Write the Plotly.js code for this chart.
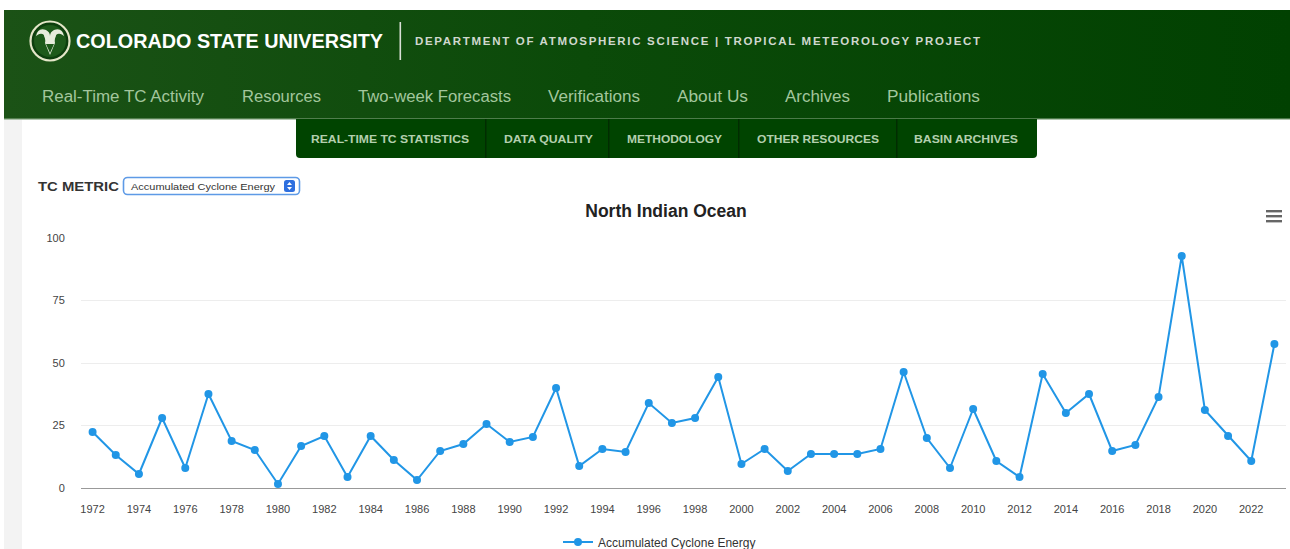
<!DOCTYPE html>
<html>
<head>
<meta charset="utf-8">
<script src="https://cdn.plot.ly/plotly-3.0.1.min.js"></script>
<style>
  html, body { margin: 0; padding: 0; background: #ffffff; width: 1290px; height: 549px; overflow: hidden; }
  #bg { position: absolute; left: 0; top: 0; }
  #chart { position: absolute; left: 0; top: 0; width: 1290px; height: 549px; }
  text { font-family: "Liberation Sans", Arial, Helvetica, sans-serif; }
</style>
</head>
<body>
<svg id="bg" width="1290" height="549" xmlns="http://www.w3.org/2000/svg">
  <defs>
    <linearGradient id="hdr" x1="0" y1="0" x2="1" y2="0">
      <stop offset="0" stop-color="#1b5216"/>
      <stop offset="0.45" stop-color="#0b4a09"/>
      <stop offset="1" stop-color="#014101"/>
    </linearGradient>
  </defs>
  <!-- left grey strip -->
  <rect x="4" y="119" width="18" height="430" fill="#f3f3f3"/>
  <!-- header band -->
  <rect x="4" y="10" width="1286" height="109" fill="url(#hdr)"/>
  <rect x="4" y="118.5" width="1286" height="1.2" fill="#8fae8c"/>
  <!-- logo -->
  <circle cx="50" cy="41" r="19.5" fill="#0d3f0d" stroke="#e4e6c8" stroke-width="2.2"/>
  <circle cx="50" cy="41" r="16" fill="#1e5a1a"/>
  <path d="M36 36 q2 -9 10 -6 q4 2 4 6 q0 -4 4 -6 q8 -3 10 6 q-3 -3 -7 -1 q-3 3 -2 8 l-5 12 l-5 -12 q1 -5 -2 -8 q-4 -2 -7 1z" fill="#e8ecdc"/>
  <circle cx="41" cy="37" r="3.2" fill="#1e5a1a"/>
  <circle cx="59" cy="37" r="3.2" fill="#1e5a1a"/>
  <path d="M46 44 l4 9 l4 -9 z" fill="#1e5a1a"/>
  <text x="76" y="48" font-size="20" font-weight="bold" fill="#ffffff" textLength="307" lengthAdjust="spacingAndGlyphs">COLORADO STATE UNIVERSITY</text>
  <rect x="399.5" y="22" width="1.6" height="38" fill="#d9dfd6"/>
  <text x="415" y="45" font-size="11.5" font-weight="bold" fill="#d0d8ce" textLength="565" lengthAdjust="spacing">DEPARTMENT OF ATMOSPHERIC SCIENCE | TROPICAL METEOROLOGY PROJECT</text>
  <!-- nav -->
  <g font-size="16" fill="#a3c69d">
    <text x="42" y="102" textLength="162" lengthAdjust="spacingAndGlyphs">Real-Time TC Activity</text>
    <text x="242" y="102" textLength="79" lengthAdjust="spacingAndGlyphs">Resources</text>
    <text x="358" y="102" textLength="153" lengthAdjust="spacingAndGlyphs">Two-week Forecasts</text>
    <text x="548" y="102" textLength="92" lengthAdjust="spacingAndGlyphs">Verifications</text>
    <text x="677" y="102" textLength="71" lengthAdjust="spacingAndGlyphs">About Us</text>
    <text x="785" y="102" textLength="65" lengthAdjust="spacingAndGlyphs">Archives</text>
    <text x="887" y="102" textLength="93" lengthAdjust="spacingAndGlyphs">Publications</text>
  </g>
  <!-- sub tabs -->
  <path d="M296 119 H1037 V154 q0 4 -4 4 H300 q-4 0 -4 -4 Z" fill="#004400"/>
  <g fill="#012c01">
    <rect x="485" y="119" width="1.5" height="39"/>
    <rect x="608" y="119" width="1.5" height="39"/>
    <rect x="738" y="119" width="1.5" height="39"/>
    <rect x="896" y="119" width="1.5" height="39"/>
  </g>
  <g font-size="10.5" font-weight="bold" fill="#b3cfae">
    <text x="311" y="143" textLength="158" lengthAdjust="spacingAndGlyphs">REAL-TIME TC STATISTICS</text>
    <text x="504" y="143" textLength="89" lengthAdjust="spacingAndGlyphs">DATA QUALITY</text>
    <text x="627" y="143" textLength="95" lengthAdjust="spacingAndGlyphs">METHODOLOGY</text>
    <text x="757" y="143" textLength="122" lengthAdjust="spacingAndGlyphs">OTHER RESOURCES</text>
    <text x="914" y="143" textLength="104" lengthAdjust="spacingAndGlyphs">BASIN ARCHIVES</text>
  </g>
  <!-- TC metric selector -->
  <text x="38" y="191" font-size="13.5" font-weight="bold" fill="#333333" textLength="81" lengthAdjust="spacingAndGlyphs">TC METRIC</text>
  <rect x="123.5" y="177.5" width="176" height="17" rx="4" ry="4" fill="#ffffff" stroke="#5e9ae6" stroke-width="1.6"/>
  <text x="131" y="189.5" font-size="9" fill="#333333" textLength="144" lengthAdjust="spacingAndGlyphs">Accumulated Cyclone Energy</text>
  <rect x="284" y="180" width="11" height="12" rx="2.5" ry="2.5" fill="#2e6fdf"/>
  <path d="M287 185 l2.5 -3 l2.5 3 z M287 187 l2.5 3 l2.5 -3 z" fill="#ffffff"/>
  <!-- hamburger -->
  <g fill="#666666">
    <rect x="1266" y="210" width="16" height="2.4"/>
    <rect x="1266" y="215" width="16" height="2.4"/>
    <rect x="1266" y="220" width="16" height="2.4"/>
  </g>
</svg>
<div id="chart"></div>
<script>
// North Indian Ocean - Accumulated Cyclone Energy by year
const years = [1972,1973,1974,1975,1976,1977,1978,1979,1980,1981,1982,1983,1984,1985,1986,1987,1988,1989,1990,1991,1992,1993,1994,1995,1996,1997,1998,1999,2000,2001,2002,2003,2004,2005,2006,2007,2008,2009,2010,2011,2012,2013,2014,2015,2016,2017,2018,2019,2020,2021,2022,2023];
const ace = [22.4,13.2,5.6,28,8,37.6,18.8,15.2,1.6,16.8,20.8,4.4,20.8,11.2,3.2,14.8,17.6,25.6,18.4,20.4,40,8.8,15.6,14.4,34,26,28,44.4,9.6,15.6,6.8,13.6,13.6,13.6,15.6,46.4,20,8,31.6,10.8,4.4,45.6,30,37.6,14.8,17.2,36.4,92.8,31.2,20.8,10.8,57.6];
const yTicks = [0,25,50,75,100];
const xTickYears = [1972,1974,1976,1978,1980,1982,1984,1986,1988,1990,1992,1994,1996,1998,2000,2002,2004,2006,2008,2010,2012,2014,2016,2018,2020,2022];
const seriesName = "Accumulated Cyclone Energy";
const chartTitle = "North Indian Ocean";

const FONT = '"Liberation Sans", Arial, Helvetica, sans-serif';
const BLUE = '#2196e6';

const trace = {
  x: years, y: ace, type: 'scatter', mode: 'lines+markers', name: seriesName,
  line: { color: BLUE, width: 2 },
  marker: { color: BLUE, size: 8 },
  cliponaxis: false,
  showlegend: true
};

const layout = {
  width: 1290, height: 549,
  margin: { l: 81, r: 4, t: 238, b: 61, pad: 0 },
  paper_bgcolor: 'rgba(0,0,0,0)',
  plot_bgcolor: 'rgba(0,0,0,0)',
  font: { family: FONT, color: '#444444', size: 11 },
  title: {
    text: '<b>' + chartTitle + '</b>',
    font: { family: FONT, size: 17.5, color: '#222222' },
    xref: 'container', yref: 'container',
    x: 666 / 1290, xanchor: 'center',
    y: (549 - 211) / 549, yanchor: 'middle'
  },
  xaxis: {
    range: [1971.5, 2023.5],
    tickmode: 'array', tickvals: xTickYears, ticktext: xTickYears.map(String),
    showgrid: false, zeroline: false,
    showline: true, linecolor: '#999999', linewidth: 1.3,
    ticks: 'outside', ticklen: 10, tickcolor: 'rgba(0,0,0,0)',
    tickfont: { family: FONT, size: 11, color: '#444444' },
    fixedrange: true, automargin: false
  },
  yaxis: {
    range: [0, 100],
    tickmode: 'array', tickvals: yTicks, ticktext: yTicks.map(String),
    showgrid: true, gridcolor: '#ededed', gridwidth: 1,
    zeroline: false, showline: false,
    ticks: 'outside', ticklen: 13, tickcolor: 'rgba(0,0,0,0)',
    tickfont: { family: FONT, size: 11, color: '#444444' },
    fixedrange: true, automargin: false
  },
  showlegend: true,
  legend: {
    orientation: 'h',
    xref: 'container', yref: 'container',
    x: 558 / 1290, xanchor: 'left',
    y: (549 - 542) / 549, yanchor: 'middle',
    font: { family: FONT, size: 12, color: '#333333' },
    bgcolor: 'rgba(0,0,0,0)'
  },
  hovermode: false
};

Plotly.newPlot('chart', [trace], layout, { displayModeBar: false, staticPlot: true });
</script>
</body>
</html>
